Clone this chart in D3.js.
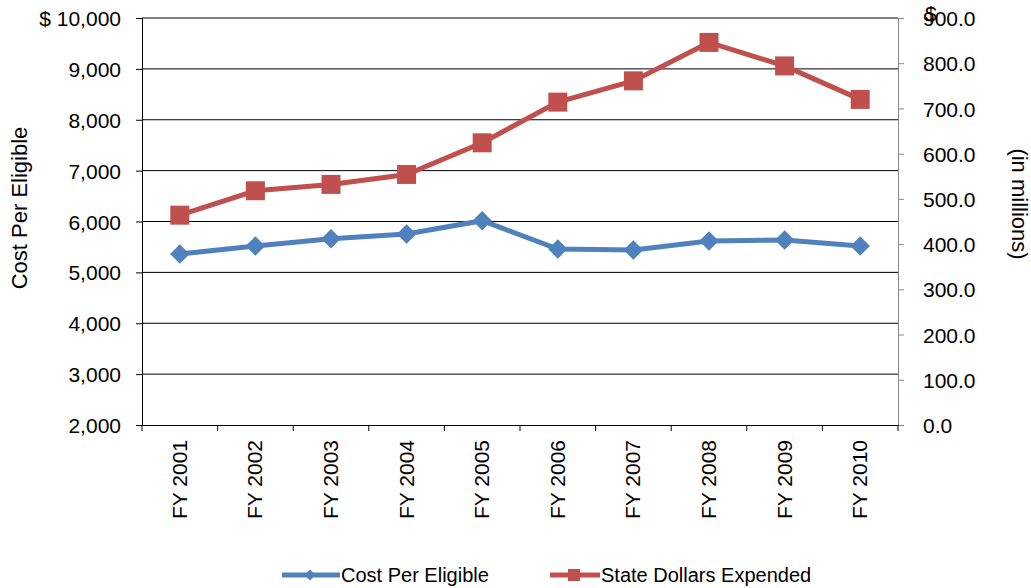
<!DOCTYPE html>
<html><head><meta charset="utf-8">
<script src="https://cdn.jsdelivr.net/npm/d3@7"></script>
<style>body{margin:0;background:#fff}svg{display:block;font-family:"Liberation Sans",Arial,sans-serif}</style>
</head><body><svg id="c" width="1031" height="588"></svg>
<script>
const categories = ["FY 2001","FY 2002","FY 2003","FY 2004","FY 2005","FY 2006","FY 2007","FY 2008","FY 2009","FY 2010"];
const costPerEligible = [5360, 5518, 5662, 5754, 6016, 5460, 5440, 5617, 5636, 5518];
const stateDollars = [464, 518, 532, 554, 624, 714, 761, 846, 794, 720];
const leftTicks = [2000,3000,4000,5000,6000,7000,8000,9000,10000];
const rightTicks = [0,100,200,300,400,500,600,700,800,900];

const FS = 21;
const FF = "Liberation Sans, Arial, sans-serif";
const svg = d3.select("#c");
const L = 142, R = 898, T = 18, B = 425;
const x = d3.scaleBand().domain(categories).range([L, R]);
const yL = d3.scaleLinear().domain([2000, 10000]).range([B, T]);
const yR = d3.scaleLinear().domain([0, 900]).range([B, T]);
const blue = "#4F81BD", red = "#C0504D";

// gridlines
svg.append("g").selectAll("line").data(leftTicks.slice(1)).join("line")
  .attr("x1", L).attr("x2", R).attr("y1", d => yL(d)).attr("y2", d => yL(d))
  .attr("stroke", "#000").attr("stroke-width", 1);

// left axis
const gl = svg.append("g").attr("transform", `translate(${L},0)`)
  .call(d3.axisLeft(yL).tickValues(leftTicks).tickSize(6).tickPadding(15)
    .tickFormat(d => (d === 10000 ? "$ " : "") + d3.format(",")(d)));
gl.select(".domain").attr("stroke", "#000");
gl.selectAll(".tick line").attr("stroke", "#000");
gl.selectAll("text").attr("font-size", FS).attr("fill", "#000").attr("font-family", FF).attr("dy", "0.36em");

// right axis
const gr = svg.append("g").attr("transform", `translate(${R},0)`)
  .call(d3.axisRight(yR).tickValues(rightTicks).tickSize(6).tickPadding(19)
    .tickFormat(d3.format(".1f")));
gr.select(".domain").attr("stroke", "#888");
gr.selectAll(".tick line").attr("stroke", "#888");
gr.selectAll("text").attr("font-size", FS).attr("fill", "#000").attr("font-family", FF).attr("dy", "0.36em");
svg.append("text").attr("x", 925).attr("y", 21).attr("font-size", FS).text("$");

// bottom axis
const gb = svg.append("g").attr("transform", `translate(0,${B})`)
  .call(d3.axisBottom(x).tickSize(0).tickFormat(""));
gb.select(".domain").attr("stroke", "#000");
svg.append("g").selectAll("line").data(d3.range(categories.length + 1)).join("line")
  .attr("x1", i => L + i * x.bandwidth()).attr("x2", i => L + i * x.bandwidth())
  .attr("y1", B).attr("y2", B + 6).attr("stroke", "#000");
svg.append("g").selectAll("text").data(categories).join("text")
  .attr("transform", d => `translate(${x(d) + x.bandwidth() / 2 + 7},${B + 15}) rotate(-90)`)
  .attr("text-anchor", "end").attr("font-size", FS).text(d => d);

// axis titles
svg.append("text").attr("transform", `translate(27,208) rotate(-90)`)
  .attr("text-anchor", "middle").attr("font-size", 22).text("Cost Per Eligible");
svg.append("text").attr("transform", `translate(1012,204) rotate(90)`)
  .attr("text-anchor", "middle").attr("font-size", 22).text("(in millions)");

const cx = d => x(d) + x.bandwidth() / 2;

// red series
svg.append("path").datum(stateDollars)
  .attr("d", d3.line().x((d, i) => cx(categories[i])).y(d => yR(d)))
  .attr("fill", "none").attr("stroke", red).attr("stroke-width", 5);
svg.append("g").selectAll("rect").data(stateDollars).join("rect")
  .attr("x", (d, i) => cx(categories[i]) - 9.5).attr("y", d => yR(d) - 9.5)
  .attr("width", 19).attr("height", 19).attr("fill", red);

// blue series
svg.append("path").datum(costPerEligible)
  .attr("d", d3.line().x((d, i) => cx(categories[i])).y(d => yL(d)))
  .attr("fill", "none").attr("stroke", blue).attr("stroke-width", 5);
svg.append("g").selectAll("path.m").data(costPerEligible).join("path")
  .attr("transform", (d, i) => `translate(${cx(categories[i])},${yL(d)}) rotate(45)`)
  .attr("d", d3.symbol().type(d3.symbolSquare).size(190)).attr("fill", blue);

// legend
const lg = svg.append("g");
lg.append("line").attr("x1", 282).attr("x2", 340).attr("y1", 575).attr("y2", 575).attr("stroke", blue).attr("stroke-width", 5);
lg.append("path").attr("transform", "translate(310,575) rotate(45)").attr("d", d3.symbol().type(d3.symbolSquare).size(60)).attr("fill", blue);
lg.append("text").attr("x", 341).attr("y", 582).attr("font-size", 20).text("Cost Per Eligible");
lg.append("line").attr("x1", 550).attr("x2", 600).attr("y1", 575).attr("y2", 575).attr("stroke", red).attr("stroke-width", 5);
lg.append("rect").attr("x", 568).attr("y", 569).attr("width", 12).attr("height", 12).attr("fill", red);
lg.append("text").attr("x", 601).attr("y", 582).attr("font-size", 20).text("State Dollars Expended");
</script></body></html>
